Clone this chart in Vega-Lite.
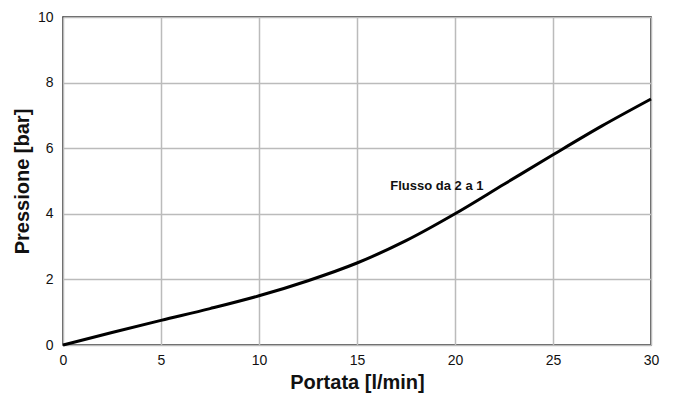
{
  "$schema": "https://vega.github.io/schema/vega-lite/v6.json",
  "autosize": {"type": "none"},
  "padding": {"left": 63, "top": 17, "right": 30, "bottom": 54},
  "width": 588,
  "height": 328,
  "background": "white",
  "config": {
    "view": {"stroke": "#222", "strokeWidth": 1.5},
    "font": "Liberation Sans"
  },
  "datasets": {
    "curve": [
      {"portata": 0, "pressione": 0},
      {"portata": 2.5, "pressione": 0.38},
      {"portata": 5, "pressione": 0.75},
      {"portata": 7.5, "pressione": 1.11},
      {"portata": 10, "pressione": 1.5},
      {"portata": 12.5, "pressione": 1.96},
      {"portata": 15, "pressione": 2.5},
      {"portata": 17.5, "pressione": 3.18},
      {"portata": 20, "pressione": 4.0},
      {"portata": 22.5, "pressione": 4.9},
      {"portata": 25, "pressione": 5.8},
      {"portata": 27.5, "pressione": 6.68},
      {"portata": 30, "pressione": 7.5}
    ],
    "labels": [
      {"portata": 16.7, "pressione": 4.85, "testo": "Flusso da 2 a 1"}
    ]
  },
  "layer": [
    {
      "data": {"name": "curve"},
      "mark": {"type": "line", "color": "black", "strokeWidth": 3, "interpolate": "monotone"},
      "encoding": {
        "x": {
          "field": "portata", "type": "quantitative",
          "scale": {"domain": [0, 30], "nice": false},
          "axis": {
            "title": "Portata [l/min]", "values": [0, 5, 10, 15, 20, 25, 30],
            "grid": true, "gridColor": "#bbbbbb", "gridWidth": 1.5,
            "ticks": false, "domain": false, "labelFlush": false,
            "labelFontSize": 14, "labelColor": "#111", "labelPadding": 8,
            "titleFontSize": 20, "titleFontWeight": "bold", "titleColor": "#111", "titlePadding": 5
          }
        },
        "y": {
          "field": "pressione", "type": "quantitative",
          "scale": {"domain": [0, 10], "nice": false},
          "axis": {
            "title": "Pressione [bar]", "values": [0, 2, 4, 6, 8, 10],
            "grid": true, "gridColor": "#bbbbbb", "gridWidth": 1.5,
            "ticks": false, "domain": false, "labelFlush": false,
            "labelFontSize": 14, "labelColor": "#111", "labelPadding": 10,
            "titleFontSize": 20, "titleFontWeight": "bold", "titleColor": "#111", "titlePadding": 5
          }
        }
      }
    },
    {
      "data": {"name": "labels"},
      "mark": {"type": "text", "align": "left", "baseline": "middle", "fontSize": 13, "fontWeight": "bold", "color": "#111"},
      "encoding": {
        "x": {"field": "portata", "type": "quantitative"},
        "y": {"field": "pressione", "type": "quantitative"},
        "text": {"field": "testo"}
      }
    }
  ]
}
